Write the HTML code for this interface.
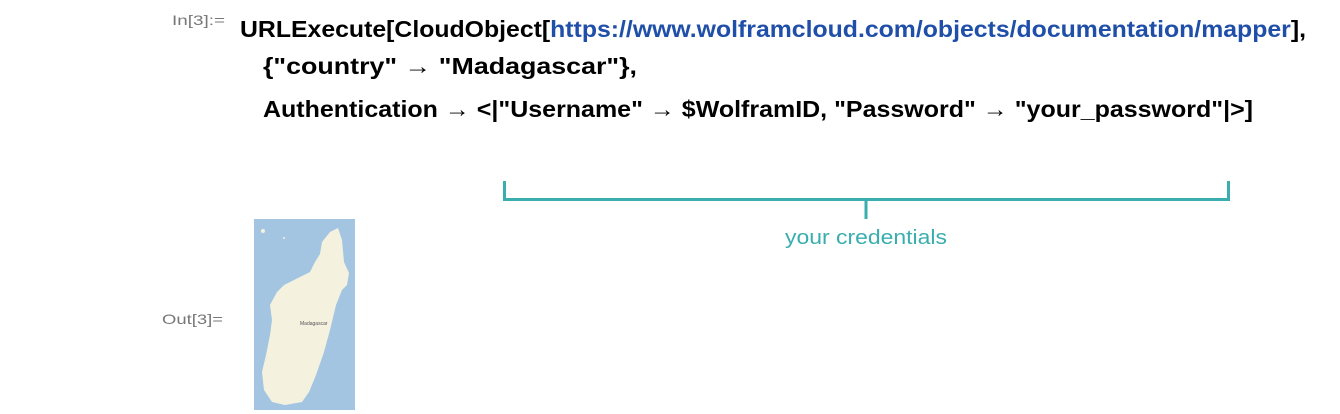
<!DOCTYPE html>
<html><head><meta charset="utf-8"><style>
html,body{margin:0;padding:0;background:#fff;width:1340px;height:414px;overflow:hidden}
</style></head><body>
<svg width="1340" height="414" xmlns="http://www.w3.org/2000/svg" font-family="Liberation Sans, sans-serif">
<text x="172" y="25" font-size="14" fill="#777" textLength="53" lengthAdjust="spacingAndGlyphs">In[3]:=</text>
<text x="240" y="37" font-size="23" font-weight="bold" fill="#000" textLength="1066" lengthAdjust="spacingAndGlyphs">URLExecute[CloudObject[<tspan fill="#1f4fa8">https://www.wolframcloud.com/objects/documentation/mapper</tspan>],</text>
<text x="263" y="74" font-size="23" font-weight="bold" fill="#000" textLength="374" lengthAdjust="spacingAndGlyphs">{"country" → "Madagascar"},</text>
<text x="263" y="117" font-size="23" font-weight="bold" fill="#000" textLength="990" lengthAdjust="spacingAndGlyphs">Authentication → &lt;|"Username" → $WolframID, "Password" → "your_password"|&gt;]</text>
<path d="M504.5 181 V199.5 H1228.5 V181 M866 199.5 V219" stroke="#3aaeae" stroke-width="3" fill="none"/>
<text x="866" y="244" font-size="20" fill="#3aaeae" text-anchor="middle" textLength="162" lengthAdjust="spacingAndGlyphs">your credentials</text>
<text x="162" y="324" font-size="14" fill="#777" textLength="61" lengthAdjust="spacingAndGlyphs">Out[3]=</text>
<rect x="254" y="219" width="101" height="191" fill="#a3c5e2"/>
<circle cx="263" cy="231" r="2" fill="#f5f1df"/><circle cx="284" cy="238" r="1" fill="#f5f1df"/>
<path d="M330 232 L338 228 L342 240 L344 262 L349 273 L347 285 L342 290 L336 305 L330 330 L324 352 L316 375 L309 392 L302 402 L285 405 L272 402 L264 390 L262 372 L266 355 L270 335 L272 320 L270 305 L277 292 L284 285 L292 281 L302 276 L310 272 L315 262 L320 254 L322 242 Z" fill="#f5f1df"/>
<text x="300" y="325" font-size="5" fill="#555">Madagascar</text>
</svg>
</body></html>
